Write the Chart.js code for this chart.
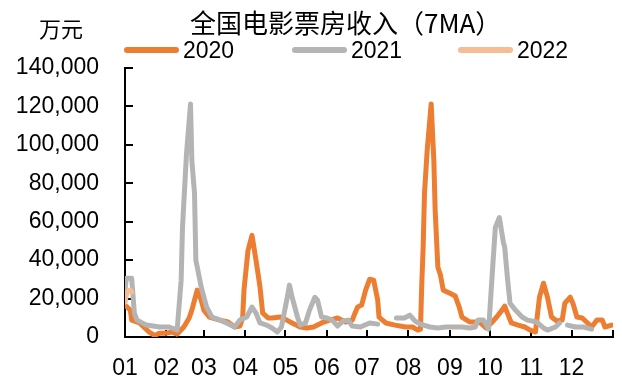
<!DOCTYPE html>
<html>
<head>
<meta charset="utf-8">
<script src="https://cdn.jsdelivr.net/npm/chart.js@4.4.1/dist/chart.umd.min.js"></script>
<style>
    html, body { margin: 0; padding: 0; background: #fff; }
    #wrap { width: 622px; height: 381px; }
</style>
</head>
<body>
<div id="wrap"><canvas id="boxOfficeChart" width="622" height="381"></canvas></div>
<script>
// x = day of year (0 = 1 Jan), y = 7-day moving average box office, 万元
const days2020 = [0, 4, 5, 11, 14, 18, 22, 26, 31, 35, 39, 44, 48, 50, 53, 54, 57, 59, 63, 71,
    77, 82, 86, 88, 89, 92, 95, 98, 101, 103, 107, 110, 116, 121, 125, 131, 136, 141, 147, 153,
    159, 165, 170, 172, 174, 177, 180, 183, 186, 189, 190, 195, 202, 210, 215, 219, 221, 222, 223, 224,
    226, 229, 231, 232, 234, 236, 238, 243, 247, 250, 252, 258, 262, 266, 270, 274, 278, 282, 284, 286,
    289, 294, 299, 303, 307, 310, 313, 316, 319, 323, 327, 329, 333, 335, 338, 342, 346, 349, 353, 357,
    359, 364];
const values2020 = [16600, 14000, 8800, 7300, 5200, 2600, 800, 2000, 2000, 2600, 1500, 5200, 9900, 14000, 21800, 24400, 19200, 14000, 10400, 8800,
    7800, 5200, 5700, 9900, 24400, 45100, 52900, 39900, 25900, 12400, 9900, 9900, 10400, 8800, 7300, 5200, 4700, 5200, 7300, 8800,
    9900, 7800, 8800, 12400, 15600, 16600, 24400, 30100, 29600, 19200, 10400, 7300, 6200, 5200, 5200, 3600, 4100, 28000, 46700, 74700,
    97000, 121300, 91800, 65800, 36300, 32100, 24400, 22800, 21300, 15600, 10400, 7800, 7800, 7300, 4700, 7300, 10400, 14000, 16100, 12400,
    7300, 6200, 5200, 3600, 2600, 20700, 28000, 20700, 10400, 8300, 8800, 17600, 20700, 17600, 10400, 9900, 7300, 5200, 8800, 8800,
    5200, 6200];

const days2021 = [0, 1, 5, 7, 9, 16, 26, 33, 39, 42, 43, 46, 49, 50, 52, 53, 56, 57, 61, 65,
    71, 76, 82, 86, 91, 95, 98, 101, 106, 110, 114, 117, 121, 123, 125, 129, 131, 135, 138, 142,
    144, 147, 151, 155, 159, 163, 167, 170, 176, 183, 189, 192, 203, 209, 213, 217, 221, 228, 234, 240,
    246, 252, 258, 262, 264, 268, 272, 275, 277, 280, 283, 284, 286, 288, 292, 297, 301, 308, 313, 316,
    322, 325, 328, 331, 337, 343, 349];
const values2021 = [24400, 30600, 30600, 12400, 8800, 6200, 5200, 5200, 3600, 29600, 57000, 95400, 121300, 91800, 74700, 39900, 29600, 25900, 15600, 10400,
    8800, 7300, 5200, 8800, 10400, 15600, 12400, 7300, 6200, 4700, 2600, 5200, 19200, 27000, 20700, 10400, 6200, 7300, 14000, 20700,
    19200, 10400, 9900, 8800, 5700, 8300, 8800, 5700, 5200, 7300, 6700, null, 9900, 9900, 11400, 8300, 6700, 5200, 4700, 5200,
    5200, 5200, 4700, 5200, 8800, 8800, 4100, 36300, 57000, 62200, 49300, 46700, 31100, 17600, 14000, 10400, 8800, 7800, 4700, 3600,
    5200, 7300, null, 6200, 5200, 5200, 4100];

const days2022 = [0, 1, 2, 4, 5];
const values2022 = [18100, 21800, 23900, 24400, 23300];

const monthStarts = [0, 31, 59, 90, 120, 151, 181, 212, 243, 273, 304, 334, 365];
const monthLabels = ['01', '02', '03', '04', '05', '06', '07', '08', '09', '10', '11', '12', ''];

const seriesNames = ['2020', '2021', '2022'];
const seriesColors = ['#ED7D31', '#B4B4B4', '#F6BC94'];

function toPoints(days, values) {
    return days.map(function (d, i) { return { x: d, y: values[i] }; });
}

// ticks point into the plot, drawn under the lines
const innerTicks = {
    id: 'innerTicks',
    beforeDatasetsDraw(chart) {
        const { ctx, chartArea, scales } = chart;
        ctx.save();
        ctx.strokeStyle = '#000';
        ctx.lineWidth = 2;
        ctx.beginPath();
        scales.x.ticks.forEach(function (t) {
            const px = Math.round(scales.x.getPixelForValue(t.value));
            ctx.moveTo(px, chartArea.bottom);
            ctx.lineTo(px, chartArea.bottom - 7);
        });
        scales.y.ticks.forEach(function (t) {
            const py = Math.round(scales.y.getPixelForValue(t.value));
            ctx.moveTo(chartArea.left, py);
            ctx.lineTo(chartArea.left + 8, py);
        });
        ctx.stroke();
        ctx.restore();
    }
};

// title, unit and legend row
const header = {
    id: 'header',
    afterDraw(chart) {
        const ctx = chart.ctx;
        ctx.save();
        ctx.fillStyle = '#000';
        ctx.textBaseline = 'middle';
        ctx.textAlign = 'left';
        ctx.font = '26px "Noto Sans CJK SC"';
        ctx.fillText('全国电影票房收入（7MA）', 190, 23);
        ctx.font = '22px "Noto Sans CJK SC"';
        ctx.fillText('万元', 39, 29);

        const legendX = [124, 292, 458];
        ctx.lineCap = 'round';
        ctx.lineWidth = 6;
        ctx.font = '23px "Liberation Sans"';
        seriesNames.forEach(function (name, i) {
            ctx.strokeStyle = seriesColors[i];
            ctx.beginPath();
            ctx.moveTo(legendX[i] + 3, 50);
            ctx.lineTo(legendX[i] + 52, 50);
            ctx.stroke();
            ctx.fillText(name, legendX[i] + 59, 52);
        });
        ctx.restore();
    }
};

const ctx = document.getElementById('boxOfficeChart').getContext('2d');
const boxOfficeChart = new Chart(ctx, {
    type: 'line',
    data: {
        datasets: [
            { label: seriesNames[0], data: toPoints(days2020, values2020), borderColor: seriesColors[0], order: 2 },
            { label: seriesNames[1], data: toPoints(days2021, values2021), borderColor: seriesColors[1], order: 1 },
            { label: seriesNames[2], data: toPoints(days2022, values2022), borderColor: seriesColors[2], order: 0 }
        ]
    },
    options: {
        responsive: false,
        animation: false,
        devicePixelRatio: 1,
        spanGaps: false,
        elements: {
            line: { borderWidth: 5, tension: 0, borderJoinStyle: 'round', borderCapStyle: 'round' },
            point: { radius: 0, hoverRadius: 0 }
        },
        layout: { padding: { top: 68, right: 9, left: 0, bottom: 0 } },
        plugins: {
            legend: { display: false },
            title: { display: false },
            tooltip: { enabled: false }
        },
        scales: {
            x: {
                type: 'linear',
                min: 0,
                max: 365,
                afterBuildTicks: function (scale) {
                    scale.ticks = monthStarts.map(function (v) { return { value: v }; });
                },
                afterFit: function (scale) {
                    scale.height = 44;
                    scale.paddingLeft = 0;
                    scale.paddingRight = 0;
                },
                ticks: {
                    autoSkip: false,
                    maxRotation: 0,
                    padding: 18,
                    color: '#000',
                    font: { family: 'Liberation Sans', size: 23 },
                    callback: function (value, index) { return monthLabels[index]; }
                },
                grid: { display: true, drawOnChartArea: false, drawTicks: false },
                border: { display: true, color: '#000', width: 2 }
            },
            y: {
                min: 0,
                max: 140000,
                afterFit: function (scale) { scale.width = 125; },
                ticks: {
                    stepSize: 20000,
                    padding: 26,
                    color: '#000',
                    font: { family: 'Liberation Sans', size: 23 },
                    callback: function (value) { return value.toLocaleString('en-US'); }
                },
                grid: { display: true, drawOnChartArea: false, drawTicks: false },
                border: { display: true, color: '#000', width: 2 }
            }
        }
    },
    plugins: [innerTicks, header]
});
</script>
</body>
</html>
